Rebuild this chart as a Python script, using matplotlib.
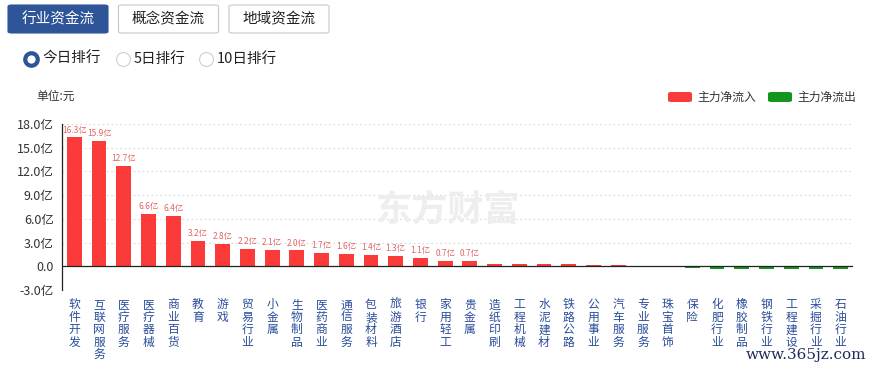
import matplotlib.pyplot as plt
from matplotlib.patches import FancyBboxPatch
from matplotlib.lines import Line2D

plt.rcParams['font.family'] = ['Noto Sans CJK SC', 'DejaVu Sans']

# 行业资金流 今日排行 (单位: 亿元)
industries = ['软件开发', '互联网服务', '医疗服务', '医疗器械', '商业百货', '教育', '游戏',
              '贸易行业', '小金属', '生物制品', '医药商业', '通信服务', '包装材料', '旅游酒店',
              '银行', '家用轻工', '贵金属', '造纸印刷', '工程机械', '水泥建材', '铁路公路',
              '公用事业', '汽车服务', '专业服务', '珠宝首饰', '保险', '化肥行业', '橡胶制品',
              '钢铁行业', '工程建设', '采掘行业', '石油行业']
net_flow = [16.3, 15.9, 12.7, 6.6, 6.4, 3.2, 2.8, 2.2, 2.1, 2.0, 1.7, 1.6, 1.4, 1.3,
            1.1, 0.7, 0.7, 0.35, 0.3, 0.3, 0.25, 0.2, 0.13, 0.03, -0.05, -0.25, -0.3,
            -0.3, -0.3, -0.3, -0.35, -0.35]
yticks = [-3, 0, 3, 6, 9, 12, 15, 18]

RED = '#fb3a3a'
GREEN = '#14961e'
BLUE = '#2d5597'

fig = plt.figure(figsize=(8.74, 3.66), dpi=100)
W, H = 874, 366


def fx(px):
    return px / W


def fy(py):
    return 1 - py / H


# top buttons
for i, name in enumerate(['行业资金流', '概念资金流', '地域资金流']):
    x0 = 8 + i * 110.5
    active = i == 0
    fig.patches.append(FancyBboxPatch((fx(x0), fy(33)), fx(100), 28 / H,
                                      boxstyle='round,pad=0,rounding_size=0.004',
                                      transform=fig.transFigure,
                                      facecolor=BLUE if active else 'white',
                                      edgecolor=BLUE if active else '#c8c8c8', lw=0.8))
    fig.text(fx(x0 + 50), fy(19), name, ha='center', va='center', fontsize=10.5,
             color='white' if active else '#222222')

# radio options
for i, (xc, label) in enumerate([(31, '今日排行'), (123, '5日排行'), (206, '10日排行')]):
    if i == 0:
        fig.add_artist(Line2D([fx(xc)], [fy(59)], marker='o', markersize=9,
                              markerfacecolor='white', markeredgecolor=BLUE,
                              markeredgewidth=3, transform=fig.transFigure))
    else:
        fig.add_artist(Line2D([fx(xc)], [fy(59)], marker='o', markersize=10,
                              markerfacecolor='white', markeredgecolor='#cfcfcf',
                              markeredgewidth=0.8, transform=fig.transFigure))
    fig.text(fx(xc + 11), fy(59), label, ha='left', va='center', fontsize=10.5, color='#222222')

fig.text(fx(36), fy(96), '单位:元', ha='left', va='center', fontsize=8.5, color='#333333')

# legend
for xl, col, lab in [(668, RED, '主力净流入'), (768, GREEN, '主力净流出')]:
    fig.patches.append(FancyBboxPatch((fx(xl), fy(102)), fx(24), 10 / H,
                                      boxstyle='round,pad=0,rounding_size=0.004',
                                      transform=fig.transFigure, facecolor=col, edgecolor='none'))
    fig.text(fx(xl + 29), fy(97), lab, ha='left', va='center', fontsize=8.5, color='#333333')

ax = fig.add_axes([fx(62), fy(290), fx(853 - 62), (290 - 124) / H])

x = list(range(len(net_flow)))
colors = [RED if v >= 0 else GREEN for v in net_flow]
ax.bar(x, net_flow, width=0.6, color=colors, zorder=3)

for xi, v in zip(x, net_flow):
    if v >= 0.7:
        ax.text(xi, v + 0.35, f'{v:.1f}亿', ha='center', va='bottom', fontsize=6,
                color='#e06565', zorder=4)

ax.set_xlim(-0.5, len(net_flow) - 0.5)
ax.set_ylim(-3, 18)
ax.set_yticks(yticks)
ax.set_yticklabels([f'{t:.1f}亿' if t != 0 else '0.0' for t in yticks],
                   fontsize=9, color='#333333')
ax.tick_params(axis='y', length=0, pad=6)
ax.set_xticks(x)
ax.set_xticklabels(['\n'.join(c) for c in industries], fontsize=8.5, color='#2a4d9b',
                   va='top', linespacing=0.95)
ax.tick_params(axis='x', length=0, pad=6)

for t in yticks:
    if t != 0:
        ax.axhline(t, color='#d8d8d8', lw=0.8, ls=(0, (1.5, 2.5)), zorder=1)
ax.axhline(0, color='#222222', lw=0.9, zorder=4)

for s in ['top', 'right', 'bottom']:
    ax.spines[s].set_visible(False)
ax.spines['left'].set_color('#222222')
ax.spines['left'].set_linewidth(0.9)

# watermarks
fig.text(fx(448), fy(210), '东方财富', ha='center', va='center', fontsize=26,
         fontweight='bold', color='#eeeeee', zorder=0)
fig.text(fx(866), fy(355), 'www.365jz.com', ha='right', va='center', fontsize=11,
         family=['DejaVu Serif'], color='#1d2b5a')

fig.savefig('out.png', dpi=100)
